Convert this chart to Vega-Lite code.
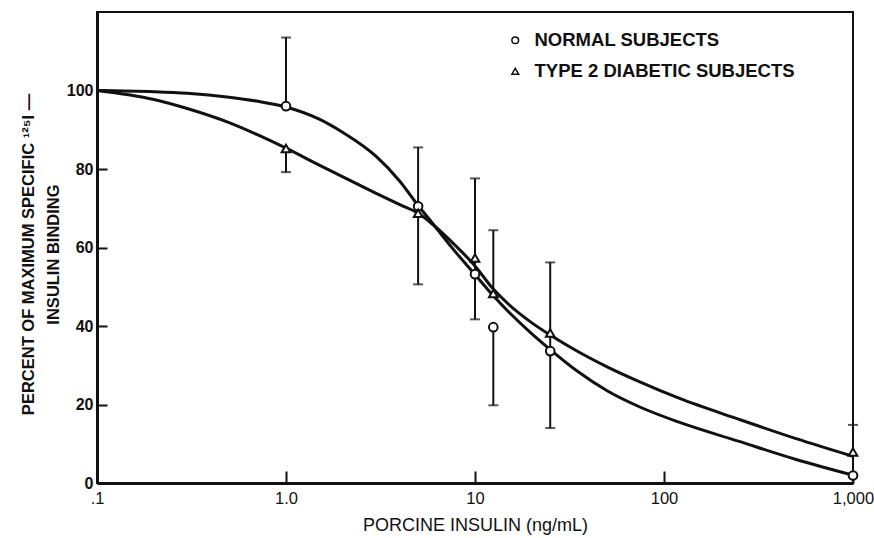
{
  "$schema": "https://vega.github.io/schema/vega-lite/v6.json",
  "width": 756,
  "height": 471,
  "autosize": {"type": "none"},
  "padding": {"left": 97, "top": 12, "right": 21, "bottom": 55},
  "background": "white",
  "config": {
    "font": "Liberation Sans",
    "view": {"stroke": "#111", "strokeWidth": 2},
    "axis": {"grid": false, "domainColor": "#111", "domainWidth": 3, "tickColor": "#111", "tickWidth": 2, "labelColor": "#111", "titleColor": "#111"}
  },
  "datasets": {
    "curves": [
      {"dose": 0.1, "pct": 100, "group": "NORMAL SUBJECTS"},
      {"dose": 0.2, "pct": 99.7, "group": "NORMAL SUBJECTS"},
      {"dose": 0.3, "pct": 99.3, "group": "NORMAL SUBJECTS"},
      {"dose": 0.5, "pct": 98.3, "group": "NORMAL SUBJECTS"},
      {"dose": 0.7, "pct": 97.3, "group": "NORMAL SUBJECTS"},
      {"dose": 1.0, "pct": 95.8, "group": "NORMAL SUBJECTS"},
      {"dose": 1.5, "pct": 92.7, "group": "NORMAL SUBJECTS"},
      {"dose": 2.0, "pct": 89.3, "group": "NORMAL SUBJECTS"},
      {"dose": 3.0, "pct": 83.2, "group": "NORMAL SUBJECTS"},
      {"dose": 4.0, "pct": 76.9, "group": "NORMAL SUBJECTS"},
      {"dose": 5.0, "pct": 70.7, "group": "NORMAL SUBJECTS"},
      {"dose": 6.0, "pct": 66.0, "group": "NORMAL SUBJECTS"},
      {"dose": 7.0, "pct": 61.9, "group": "NORMAL SUBJECTS"},
      {"dose": 8.0, "pct": 58.5, "group": "NORMAL SUBJECTS"},
      {"dose": 10, "pct": 53.1, "group": "NORMAL SUBJECTS"},
      {"dose": 12.5, "pct": 47.7, "group": "NORMAL SUBJECTS"},
      {"dose": 15, "pct": 43.7, "group": "NORMAL SUBJECTS"},
      {"dose": 20, "pct": 38.0, "group": "NORMAL SUBJECTS"},
      {"dose": 25, "pct": 34.0, "group": "NORMAL SUBJECTS"},
      {"dose": 35, "pct": 28.4, "group": "NORMAL SUBJECTS"},
      {"dose": 50, "pct": 23.5, "group": "NORMAL SUBJECTS"},
      {"dose": 75, "pct": 19.3, "group": "NORMAL SUBJECTS"},
      {"dose": 120, "pct": 15.5, "group": "NORMAL SUBJECTS"},
      {"dose": 250, "pct": 10.6, "group": "NORMAL SUBJECTS"},
      {"dose": 500, "pct": 6.0, "group": "NORMAL SUBJECTS"},
      {"dose": 1000, "pct": 2.0, "group": "NORMAL SUBJECTS"},
      {"dose": 0.1, "pct": 100, "group": "TYPE 2 DIABETIC SUBJECTS"},
      {"dose": 0.2, "pct": 97.7, "group": "TYPE 2 DIABETIC SUBJECTS"},
      {"dose": 0.3, "pct": 95.4, "group": "TYPE 2 DIABETIC SUBJECTS"},
      {"dose": 0.5, "pct": 91.8, "group": "TYPE 2 DIABETIC SUBJECTS"},
      {"dose": 0.7, "pct": 88.8, "group": "TYPE 2 DIABETIC SUBJECTS"},
      {"dose": 1.0, "pct": 85.3, "group": "TYPE 2 DIABETIC SUBJECTS"},
      {"dose": 1.5, "pct": 81.0, "group": "TYPE 2 DIABETIC SUBJECTS"},
      {"dose": 2.0, "pct": 78.0, "group": "TYPE 2 DIABETIC SUBJECTS"},
      {"dose": 3.0, "pct": 73.8, "group": "TYPE 2 DIABETIC SUBJECTS"},
      {"dose": 4.0, "pct": 70.9, "group": "TYPE 2 DIABETIC SUBJECTS"},
      {"dose": 5.0, "pct": 68.7, "group": "TYPE 2 DIABETIC SUBJECTS"},
      {"dose": 6.0, "pct": 65.8, "group": "TYPE 2 DIABETIC SUBJECTS"},
      {"dose": 7.0, "pct": 62.9, "group": "TYPE 2 DIABETIC SUBJECTS"},
      {"dose": 8.0, "pct": 60.2, "group": "TYPE 2 DIABETIC SUBJECTS"},
      {"dose": 10, "pct": 55.3, "group": "TYPE 2 DIABETIC SUBJECTS"},
      {"dose": 12.5, "pct": 49.4, "group": "TYPE 2 DIABETIC SUBJECTS"},
      {"dose": 15, "pct": 45.6, "group": "TYPE 2 DIABETIC SUBJECTS"},
      {"dose": 20, "pct": 40.8, "group": "TYPE 2 DIABETIC SUBJECTS"},
      {"dose": 25, "pct": 37.7, "group": "TYPE 2 DIABETIC SUBJECTS"},
      {"dose": 35, "pct": 33.5, "group": "TYPE 2 DIABETIC SUBJECTS"},
      {"dose": 50, "pct": 29.6, "group": "TYPE 2 DIABETIC SUBJECTS"},
      {"dose": 75, "pct": 25.7, "group": "TYPE 2 DIABETIC SUBJECTS"},
      {"dose": 120, "pct": 21.6, "group": "TYPE 2 DIABETIC SUBJECTS"},
      {"dose": 250, "pct": 16.2, "group": "TYPE 2 DIABETIC SUBJECTS"},
      {"dose": 500, "pct": 11.3, "group": "TYPE 2 DIABETIC SUBJECTS"},
      {"dose": 1000, "pct": 6.8, "group": "TYPE 2 DIABETIC SUBJECTS"}
    ],
    "points": [
      {"dose": 1, "pct": 96.0, "group": "NORMAL SUBJECTS"},
      {"dose": 5, "pct": 70.5, "group": "NORMAL SUBJECTS"},
      {"dose": 10, "pct": 53.2, "group": "NORMAL SUBJECTS"},
      {"dose": 12.5, "pct": 39.7, "group": "NORMAL SUBJECTS"},
      {"dose": 25, "pct": 33.6, "group": "NORMAL SUBJECTS"},
      {"dose": 1000, "pct": 1.9, "group": "NORMAL SUBJECTS"},
      {"dose": 1, "pct": 85.2, "group": "TYPE 2 DIABETIC SUBJECTS"},
      {"dose": 5, "pct": 68.7, "group": "TYPE 2 DIABETIC SUBJECTS"},
      {"dose": 10, "pct": 57.3, "group": "TYPE 2 DIABETIC SUBJECTS"},
      {"dose": 12.5, "pct": 48.3, "group": "TYPE 2 DIABETIC SUBJECTS"},
      {"dose": 25, "pct": 38.2, "group": "TYPE 2 DIABETIC SUBJECTS"},
      {"dose": 1000, "pct": 7.9, "group": "TYPE 2 DIABETIC SUBJECTS"}
    ],
    "bars": [
      {"dose": 1, "lo": 96.0, "hi": 113.5},
      {"dose": 1, "lo": 79.2, "hi": 85.2},
      {"dose": 5, "lo": 50.6, "hi": 85.5},
      {"dose": 10, "lo": 41.7, "hi": 77.6},
      {"dose": 12.5, "lo": 48.3, "hi": 64.4},
      {"dose": 12.5, "lo": 19.8, "hi": 39.7},
      {"dose": 25, "lo": 14.0, "hi": 56.2},
      {"dose": 1000, "lo": 1.9, "hi": 14.8}
    ],
    "caps": [
      {"dose": 1, "pct": 113.5},
      {"dose": 1, "pct": 79.2},
      {"dose": 5, "pct": 85.5},
      {"dose": 5, "pct": 50.6},
      {"dose": 10, "pct": 77.6},
      {"dose": 10, "pct": 41.7},
      {"dose": 12.5, "pct": 64.4},
      {"dose": 12.5, "pct": 19.8},
      {"dose": 25, "pct": 56.2},
      {"dose": 25, "pct": 14.0},
      {"dose": 1000, "pct": 14.8}
    ]
  },
  "layer": [
    {
      "data": {"name": "curves"},
      "mark": {"type": "line", "interpolate": "monotone", "color": "#111", "strokeWidth": 3},
      "encoding": {
        "x": {
          "field": "dose", "type": "quantitative",
          "scale": {"type": "log", "domain": [0.1, 1000], "nice": false},
          "axis": {
            "values": [0.1, 1, 10, 100, 1000],
            "labelExpr": "datum.value < 0.5 ? '.1' : datum.value < 5 ? '1.0' : datum.value > 500 ? '1,000' : format(datum.value, 'd')",
            "tickSize": -12,
            "labelPadding": 19,
            "labelFontSize": 16.5,
            "labelFlush": false,
            "title": "PORCINE INSULIN (ng/mL)",
            "titleFontSize": 18,
            "titleFontWeight": "normal",
            "titleBaseline": "alphabetic",
            "titleY": 47
          }
        },
        "y": {
          "field": "pct", "type": "quantitative",
          "scale": {"domain": [0, 120], "nice": false},
          "axis": {
            "values": [0, 20, 40, 60, 80, 100],
            "tickSize": -10,
            "labelPadding": 14,
            "labelFontSize": 16,
            "labelFontWeight": "bold",
            "labelFlush": false,
            "title": ["PERCENT OF MAXIMUM SPECIFIC ¹²⁵I —", "INSULIN BINDING"],
            "titleFontSize": 16.5,
            "titleFontWeight": "bold",
            "titleAngle": -90,
            "titleAlign": "center",
            "titleBaseline": "alphabetic",
            "titleLineHeight": 25,
            "titleX": -64,
            "titleY": 242
          }
        },
        "detail": {"field": "group"}
      }
    },
    {
      "data": {"name": "bars"},
      "mark": {"type": "rule", "color": "#111", "strokeWidth": 2},
      "encoding": {
        "x": {"field": "dose", "type": "quantitative"},
        "y": {"field": "lo", "type": "quantitative"},
        "y2": {"field": "hi"}
      }
    },
    {
      "data": {"name": "caps"},
      "mark": {"type": "tick", "orient": "horizontal", "color": "#111", "size": 10, "thickness": 2},
      "encoding": {
        "x": {"field": "dose", "type": "quantitative"},
        "y": {"field": "pct", "type": "quantitative"}
      }
    },
    {
      "data": {"name": "points"},
      "mark": {"type": "point", "filled": false, "color": "#111", "fill": "white", "fillOpacity": 1, "strokeWidth": 2, "size": 75, "opacity": 1},
      "encoding": {
        "x": {"field": "dose", "type": "quantitative"},
        "y": {"field": "pct", "type": "quantitative"},
        "shape": {
          "field": "group", "type": "nominal",
          "scale": {"domain": ["NORMAL SUBJECTS", "TYPE 2 DIABETIC SUBJECTS"], "range": ["circle", "triangle-up"]},
          "legend": {
            "title": null,
            "orient": "none",
            "legendX": 409,
            "legendY": 19,
            "labelFontSize": 18.5,
            "labelFontWeight": "bold",
            "labelColor": "#111",
            "labelLimit": 400,
            "labelOffset": 10,
            "rowPadding": 12,
            "symbolSize": 45,
            "encode": {
              "symbols": {
                "update": {
                  "stroke": {"value": "#111"},
                  "fill": {"value": "white"},
                  "strokeWidth": {"value": 1.6},
                  "opacity": {"value": 1},
                  "fillOpacity": {"value": 1},
                  "strokeOpacity": {"value": 1}
                }
              }
            }
          }
        }
      }
    }
  ]
}
